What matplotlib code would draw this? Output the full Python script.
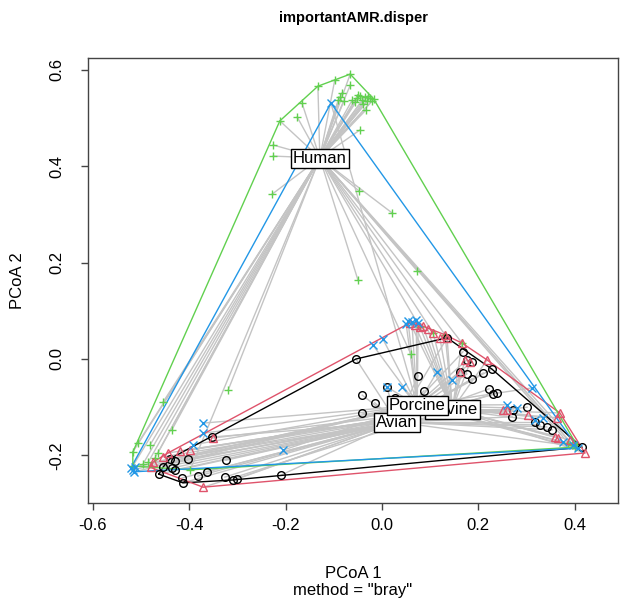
import numpy as np
import matplotlib
matplotlib.use("Agg")
import matplotlib.pyplot as plt

plt.rcParams['font.family'] = ['Liberation Sans', 'DejaVu Sans']

groups = ["Avian", "Bovine", "Human", "Porcine"]
colors = ["#000000", "#DF536B", "#61D04F", "#2297E6"]
markers = ["o", "^", "+", "x"]

avian_x = [-0.463, -0.440, -0.429, -0.402, -0.324, -0.454, -0.436, -0.429, -0.415, -0.413,
           -0.382, -0.363, -0.326, -0.309, -0.301, -0.210, -0.353, -0.054, 0.135, 0.228,
           0.075, -0.041, -0.041, -0.015, 0.010, 0.087, 0.168, 0.176, 0.187, 0.162,
           0.176, 0.187, 0.210, 0.222, 0.230, 0.239, 0.301, 0.272, 0.270, 0.317,
           0.328, 0.342, 0.353, 0.415, 0.027]
avian_y = [-0.239, -0.207, -0.212, -0.207, -0.210, -0.224, -0.226, -0.230, -0.247, -0.257,
           -0.243, -0.234, -0.245, -0.251, -0.249, -0.241, -0.162, 0.000, 0.044, -0.021,
           -0.035, -0.075, -0.112, -0.091, -0.058, -0.066, 0.015, -0.002, -0.006, -0.027,
           -0.031, -0.041, -0.029, -0.062, -0.073, -0.071, -0.100, -0.106, -0.120, -0.131,
           -0.137, -0.141, -0.147, -0.183, -0.081]

bovine_x = [0.058, 0.068, 0.079, 0.085, 0.095, 0.106, 0.120, 0.131, 0.135, 0.166,
            0.218, 0.162, 0.172, 0.183, 0.251, 0.259, 0.303, 0.363, 0.369, 0.359,
            0.365, 0.390, 0.421, -0.475, -0.454, -0.444, -0.419, -0.398, -0.351, -0.371,
            -0.480]
bovine_y = [0.075, 0.071, 0.066, 0.068, 0.062, 0.054, 0.044, 0.050, 0.044, 0.033,
            -0.002, -0.027, -0.002, -0.006, -0.106, -0.106, -0.116, -0.122, -0.112, -0.162,
            -0.164, -0.168, -0.195, -0.214, -0.203, -0.195, -0.191, -0.189, -0.164, -0.266,
            -0.225]

human_x = [-0.066, -0.098, -0.133, -0.166, -0.212, -0.176, -0.226, -0.226, -0.228, -0.066,
           -0.087, -0.083, -0.091, -0.079, -0.052, -0.046, -0.041, -0.035, -0.031, -0.025,
           -0.021, -0.056, -0.039, -0.029, -0.050, -0.017, -0.062, -0.033, -0.046, -0.048,
           0.021, 0.073, -0.050, -0.319, -0.454, -0.436, -0.506, -0.517, -0.481, -0.465,
           -0.485, -0.398, -0.517, -0.496, -0.471, 0.400, 0.386, 0.405, 0.395, 0.060,
           0.079, 0.106, 0.131, 0.166]
human_y = [0.591, 0.579, 0.566, 0.531, 0.494, 0.502, 0.444, 0.421, 0.342, 0.568,
           0.544, 0.552, 0.537, 0.535, 0.541, 0.546, 0.537, 0.544, 0.535, 0.541,
           0.535, 0.533, 0.529, 0.546, 0.548, 0.539, 0.537, 0.517, 0.475, 0.349,
           0.303, 0.183, 0.164, -0.064, -0.089, -0.147, -0.174, -0.193, -0.178, -0.195,
           -0.214, -0.230, -0.222, -0.218, -0.205, -0.183, -0.174, -0.180, -0.178, 0.010,
           0.066, 0.054, 0.050, 0.033]

porcine_x = [-0.106, 0.054, 0.062, 0.071, 0.075, 0.050, -0.019, 0.002, 0.010, 0.041,
             0.114, 0.145, 0.259, 0.280, 0.311, 0.317, 0.334, 0.376, 0.396, 0.407,
             -0.371, -0.371, -0.392, -0.205, -0.517, -0.521, -0.512, -0.514]
porcine_y = [0.531, 0.079, 0.077, 0.081, 0.075, 0.073, 0.029, 0.041, -0.058, -0.058,
             -0.027, -0.044, -0.095, -0.102, -0.060, -0.127, -0.122, -0.172, -0.178, -0.185,
             -0.133, -0.154, -0.178, -0.189, -0.230, -0.226, -0.224, -0.234]

centroid_x = [0.031, 0.146, -0.129, 0.073]
centroid_y = [-0.131, -0.104, 0.417, -0.096]

xs = [avian_x, bovine_x, human_x, porcine_x]
ys = [avian_y, bovine_y, human_y, porcine_y]


def hull(px, py):
    pts = sorted(set(zip(px, py)))
    def cross(o, a, b):
        return (a[0]-o[0])*(b[1]-o[1]) - (a[1]-o[1])*(b[0]-o[0])
    lower, upper = [], []
    for p in pts:
        while len(lower) >= 2 and cross(lower[-2], lower[-1], p) <= 0:
            lower.pop()
        lower.append(p)
    for p in reversed(pts):
        while len(upper) >= 2 and cross(upper[-2], upper[-1], p) <= 0:
            upper.pop()
        upper.append(p)
    h = lower[:-1] + upper[:-1]
    h.append(h[0])
    return [p[0] for p in h], [p[1] for p in h]


W, H = 632, 604
fig = plt.figure(figsize=(W/100, H/100), dpi=100)
ax = fig.add_axes([88/W, 1-503/H, 530/W, 445/H])
ax.set_xlim(-0.610, 0.4896)
ax.set_ylim(-0.2988, 0.6245)

# segments
for g in range(4):
    for x, y in zip(xs[g], ys[g]):
        ax.plot([centroid_x[g], x], [centroid_y[g], y], color="#C4C4C4", lw=1, zorder=1)
# hulls
for g in range(4):
    hx, hy = hull(xs[g], ys[g])
    ax.plot(hx, hy, color=colors[g], lw=1, zorder=2)
# points
point_z = [4, 5, 3, 6]
for g in range(4):
    if markers[g] in ("+", "x"):
        ax.plot(xs[g], ys[g], ls="none", marker=markers[g], ms=6, mew=1,
                color=colors[g], zorder=point_z[g])
    else:
        ax.plot(xs[g], ys[g], ls="none", marker=markers[g], ms=5.5, mew=1,
                mfc="none", mec=colors[g], zorder=point_z[g])
# labels
for g in range(4):
    ax.text(centroid_x[g], centroid_y[g], groups[g], ha="center", va="center",
            fontsize=12, zorder=10 + g,
            bbox=dict(boxstyle="square,pad=0.12", fc="white", ec="black", lw=1))

ax.set_xticks([-0.6, -0.4, -0.2, 0.0, 0.2, 0.4])
ax.set_xticklabels(["-0.6", "-0.4", "-0.2", "0.0", "0.2", "0.4"])
ax.set_yticks([-0.2, 0.0, 0.2, 0.4, 0.6])
ax.set_yticklabels(["-0.2", "0.0", "0.2", "0.4", "0.6"], rotation=90, va="center")
ax.tick_params(direction="out", length=5, width=1, labelsize=12, color="#444444")
ax.tick_params(axis="x", pad=6)
ax.tick_params(axis="y", pad=12)
for s in ax.spines.values():
    s.set_linewidth(1)
    s.set_color("#444444")

fig.text(353/W, 1-18/H, "importantAMR.disper", ha="center", va="center",
         fontsize=10.5, fontweight="bold")
fig.text(18/W, 1-(58+503)/2/H, "PCoA 2", ha="center", va="center", rotation=90, fontsize=12)
fig.text(353/W, 1-573/H, "PCoA 1", ha="center", va="center", fontsize=12)
fig.text(353/W, 1-591/H, 'method = "bray"', ha="center", va="center", fontsize=12)

fig.savefig("out.png", dpi=100)
